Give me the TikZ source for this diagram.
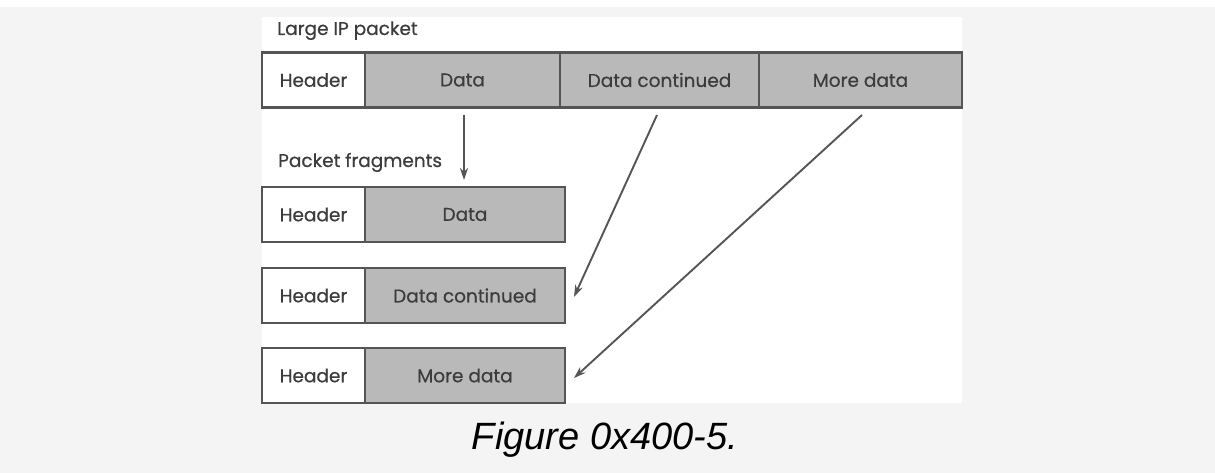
\documentclass[tikz,border=0pt]{standalone}
\usepackage{fontspec}
\newfontfamily\bodyfont{Poppins}[FakeBold=0.5]
\newfontfamily\capfont{Liberation Sans}
\usetikzlibrary{arrows.meta}
\definecolor{bgout}{HTML}{F4F4F4}
\definecolor{boxfill}{HTML}{B9B9B9}
\definecolor{boxline}{HTML}{555555}
\definecolor{txt}{HTML}{3C3C3C}
\tikzset{
  cell/.style={draw=boxline, line width=2.4pt, minimum height=55pt, inner sep=0pt,
    font=\bodyfont\fontsize{18.5}{18.5}\selectfont, text=txt},
  hdr/.style={cell, fill=white},
  dat/.style={cell, fill=boxfill},
  lbl/.style={anchor=base west, inner sep=0pt, font=\bodyfont\fontsize{18.5}{18.5}\selectfont, text=txt},
  arr/.style={draw=boxline, line width=1.9pt, -{Stealth[length=12pt,width=8pt]}},
}
\begin{document}
\begin{tikzpicture}[x=1pt,y=-1pt]
\useasboundingbox (0,0) rectangle (1215,473);
\fill[bgout] (0,0) rectangle (1215,473);
\fill[white] (0,0) rectangle (1215,7);
\fill[white] (262,17) rectangle (962,403);
% top packet
\node[lbl] (lip) at (277,35) {Large IP packet};
\node[hdr, minimum width=103pt] (th) at (313.5,80) {Header};
\node[dat, minimum width=195pt] (td) at (462.5,80) {Data};
\node[dat, minimum width=199pt] (tc) at (659.5,80) {Data continued};
\node[dat, minimum width=203pt] (tm) at (860.5,80) {More data};
% fragments
\node[lbl] (pf) at (278,167) {Packet fragments};
\node[hdr, minimum width=103pt] (f1h) at (313.5,214.5) {Header};
\node[dat, minimum width=200pt] (f1d) at (465,214.5) {Data};
\node[hdr, minimum width=103pt] (f2h) at (313.5,295.5) {Header};
\node[dat, minimum width=200pt] (f2d) at (465,295.5) {Data continued};
\node[hdr, minimum width=103pt] (f3h) at (313.5,375.5) {Header};
\node[dat, minimum width=200pt] (f3d) at (465,375.5) {More data};
% arrows
\coordinate (a1s) at (464,115);
\coordinate (a1e) at (464,180);
\coordinate (a2s) at (657,115);
\coordinate (a2e) at (574,297);
\coordinate (a3s) at (862,115);
\coordinate (a3e) at (574,378);
\draw[arr] (a1s) -- (a1e);
\draw[arr] (a2s) -- (a2e);
\draw[arr] (a3s) -- (a3e);
% caption
\node[anchor=base, inner sep=0pt, font=\capfont\itshape\fontsize{38}{38}\selectfont] (cap) at (605,449) {Figure 0x400-5.};
\end{tikzpicture}
\end{document}
